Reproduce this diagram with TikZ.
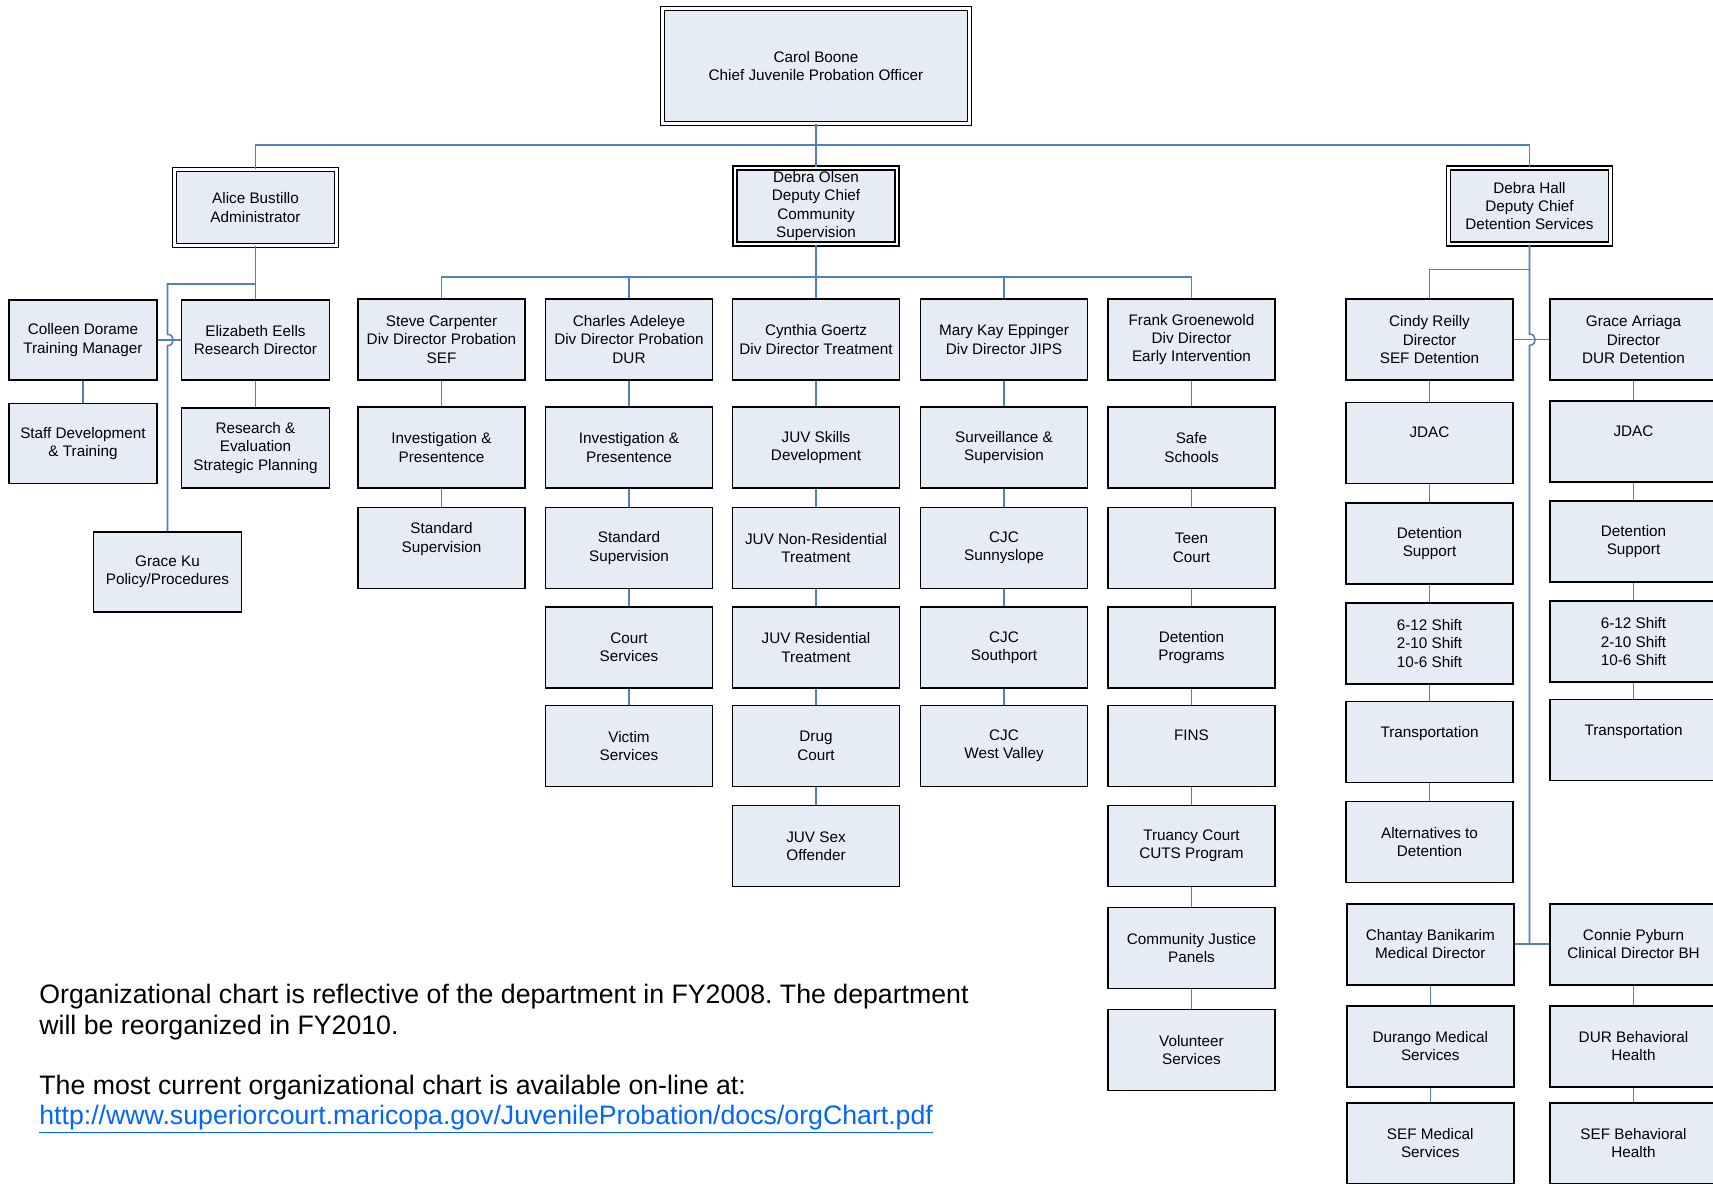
\documentclass[tikz,border=0pt]{standalone}
\usepackage{fontspec}
\setmainfont{Liberation Sans}
\usepackage{tikz}
\usetikzlibrary{positioning,calc}
\definecolor{myboxfill}{RGB}{230,236,246}
\definecolor{mylinkblue}{RGB}{79,129,189}
\definecolor{myurlblue}{RGB}{0,102,255}
\newcommand{\orgfont}{\fontsize{8.7}{10.5}\selectfont}
\newcommand{\memofont}{\fontsize{15.2}{18.6}\selectfont}
\frenchspacing

\begin{document}
\begin{tikzpicture}[
  x=0.02cm,
  y=-0.02cm,
  mybox/.style={
    draw,
    line width=1.1pt,
    fill=myboxfill,
    align=center,
    inner sep=0pt,
    minimum width=3.34cm,
    minimum height=1.62cm,
    font=\orgfont
    },
  mysmallbox/.style={
    mybox,
    minimum width=2.96cm,
    minimum height=1.6cm
    },
  mychief/.style={
    mybox,
    double,
    double distance=1.4pt,
    line width=0.8pt,
    minimum width=3.24cm,
    minimum height=1.52cm
    },
  raised/.style={text depth=12pt},
  mylink/.style={draw=mylinkblue, line width=0.9pt},
  memo/.style={anchor=base west, inner sep=0pt, font=\memofont}
]
\useasboundingbox (0,0) rectangle (1713,1183);
\clip (0,0) rectangle (1713,1183);

% chief and deputies
\node[mychief, minimum width=6.14cm, minimum height=2.3cm] (carol) at (816,66)
  {Carol Boone\\Chief Juvenile Probation Officer};
\node[mychief] (alice) at (255.5,207.5) {Alice Bustillo\\Administrator};
\node[mychief] (olsen) at (816,206) {Debra Olsen\\Deputy Chief\\Community\\Supervision};
\node[mychief] (hall) at (1529.5,206) {Debra Hall\\Deputy Chief\\Detention Services};

\coordinate (topbar) at (816,145);
\coordinate (ajoin) at (255.5,284);
\coordinate (midbar) at (816,277);
\coordinate (hbar) at (1529.5,269.3);

% administration
\node[mysmallbox] (colleen) at (83,340) {Colleen Dorame\\Training Manager};
\node[mysmallbox] (staffdev) at (83,443.5) {Staff Development\\\& Training};
\node[mysmallbox] (elizabeth) at (255.5,340) {Elizabeth Eells\\Research Director};
\node[mysmallbox] (research) at (255.5,448) {Research \&\\Evaluation\\Strategic Planning};
\node[mysmallbox] (graceku) at (167.5,572) {Grace Ku\\Policy/Procedures};

% community supervision
\node[mybox] (steve) at (441.5,339.5) {Steve Carpenter\\Div Director Probation\\SEF};
\node[mybox] (steve2) at (441.5,447.5) {Investigation \&\\Presentence};
\node[mybox, raised] (steve3) at (441.5,548) {Standard\\Supervision};

\node[mybox] (charles) at (629,339.5) {Charles Adeleye\\Div Director Probation\\DUR};
\node[mybox] (charles2) at (629,447.5) {Investigation \&\\Presentence};
\node[mybox] (charles3) at (629,548) {Standard\\Supervision};
\node[mybox] (charles4) at (629,647.5) {Court\\Services};
\node[mybox] (charles5) at (629,746) {Victim\\Services};

\node[mybox] (cynthia) at (816,339.5) {Cynthia Goertz\\Div Director Treatment};
\node[mybox] (cynthia2) at (816,447.5) {JUV Skills\\Development};
\node[mybox] (cynthia3) at (816,548) {JUV Non-Residential\\Treatment};
\node[mybox] (cynthia4) at (816,647.5) {JUV Residential\\Treatment};
\node[mybox] (cynthia5) at (816,746) {Drug\\Court};
\node[mybox] (cynthia6) at (816,846) {JUV Sex\\Offender};

\node[mybox] (marykay) at (1004,339.5) {Mary Kay Eppinger\\Div Director JIPS};
\node[mybox] (marykay2) at (1004,447.5) {Surveillance \&\\Supervision};
\node[mybox] (marykay3) at (1004,548) {CJC\\Sunnyslope};
\node[mybox] (marykay4) at (1004,647.5) {CJC\\Southport};
\node[mybox] (marykay5) at (1004,746) {CJC\\West Valley};

\node[mybox] (frank) at (1191.5,339.5) {Frank Groenewold\\Div Director\\Early Intervention};
\node[mybox] (frank2) at (1191.5,447.5) {Safe\\Schools};
\node[mybox] (frank3) at (1191.5,548) {Teen\\Court};
\node[mybox] (frank4) at (1191.5,647.5) {Detention\\Programs};
\node[mybox, raised] (frank5) at (1191.5,746) {FINS};
\node[mybox] (frank6) at (1191.5,846) {Truancy Court\\CUTS Program};
\node[mybox] (frank7) at (1191.5,948) {Community Justice\\Panels};
\node[mybox] (frank8) at (1191.5,1050) {Volunteer\\Services};

% detention services
\node[mybox] (cindy) at (1429.5,339.7) {Cindy Reilly\\Director\\SEF Detention};
\node[mybox, raised] (cindy2) at (1429.5,443) {JDAC};
\node[mybox] (cindy3) at (1429.5,543.5) {Detention\\Support};
\node[mybox] (cindy4) at (1429.5,643.3) {6-12 Shift\\2-10 Shift\\10-6 Shift};
\node[mybox, raised] (cindy5) at (1429.5,742) {Transportation};
\node[mybox] (cindy6) at (1429.5,842) {Alternatives to\\Detention};

\node[mybox] (chantay) at (1430.3,944.2) {Chantay Banikarim\\Medical Director};
\node[mybox] (chantay2) at (1430.3,1046.2) {Durango Medical\\Services};
\node[mybox] (chantay3) at (1430.3,1143.2) {SEF Medical\\Services};

\node[mybox] (grace) at (1633.5,339.7) {Grace Arriaga\\Director\\DUR Detention};
\node[mybox, raised] (grace2) at (1633.5,441.7) {JDAC};
\node[mybox] (grace3) at (1633.5,541.8) {Detention\\Support};
\node[mybox] (grace4) at (1633.5,641.6) {6-12 Shift\\2-10 Shift\\10-6 Shift};
\node[mybox, raised] (grace5) at (1633.5,740) {Transportation};

\node[mybox] (connie) at (1633.5,944.2) {Connie Pyburn\\Clinical Director BH};
\node[mybox] (connie2) at (1633.5,1046.2) {DUR Behavioral\\Health};
\node[mybox] (connie3) at (1633.5,1143.2) {SEF Behavioral\\Health};

% connectors
\draw[mylink] (carol.south) -- (topbar) -- (olsen.north);
\draw[mylink] (alice.north) |- (topbar) -| (hall.north);

\coordinate (kuhop) at (graceku.north |- colleen.east);
\draw[mylink] (alice.south) -- (elizabeth.north);
\draw[mylink] (ajoin) -| ([yshift=3.2pt]kuhop)
  .. controls +(4.3pt,0) and +(4.3pt,0) .. ([yshift=-3.2pt]kuhop) -- (graceku.north);
\draw[mylink] (colleen.east) -- (elizabeth.west);

\draw[mylink] (olsen.south) -- (cynthia.north);
\draw[mylink] (steve.north) |- (midbar) -| (frank.north);
\draw[mylink] (charles.north) |- (midbar);
\draw[mylink] (marykay.north) |- (midbar);

\coordinate (hallhop) at (hall.south |- cindy.east);
\coordinate (hallend) at (hall.south |- chantay.east);
\draw[mylink] (hall.south) -- ([yshift=3.2pt]hallhop)
  .. controls +(4.3pt,0) and +(4.3pt,0) .. ([yshift=-3.2pt]hallhop) -- (hallend);
\draw[mylink] (hbar) -| (cindy.north);
\draw[mylink] (cindy.east) -- (grace.west);
\draw[mylink] (chantay.east) -- (connie.west);

\foreach \a/\b in {colleen/staffdev, elizabeth/research,
    steve/steve2, steve2/steve3,
    charles/charles2, charles2/charles3, charles3/charles4, charles4/charles5,
    cynthia/cynthia2, cynthia2/cynthia3, cynthia3/cynthia4, cynthia4/cynthia5, cynthia5/cynthia6,
    marykay/marykay2, marykay2/marykay3, marykay3/marykay4, marykay4/marykay5,
    frank/frank2, frank2/frank3, frank3/frank4, frank4/frank5, frank5/frank6, frank6/frank7, frank7/frank8,
    cindy/cindy2, cindy2/cindy3, cindy3/cindy4, cindy4/cindy5, cindy5/cindy6,
    chantay/chantay2, chantay2/chantay3,
    grace/grace2, grace2/grace3, grace3/grace4, grace4/grace5,
    connie/connie2, connie2/connie3}
  \draw[mylink] (\a.south) -- (\b.north);

% note
\node[memo] (memo1) at (39,1003) {Organizational chart is reflective of the department in FY2008. The department};
\node[memo] (memo2) at (39,1034) {will be reorganized in FY2010.};
\node[memo] (memo3) at (39,1094) {The most current organizational chart is available on-line at:};
\node[memo, text=myurlblue] (url) at (39,1124)
  {\underline{http://www.superiorcourt.maricopa.gov/JuvenileProbation/docs/orgChart.pdf}};

\end{tikzpicture}
\end{document}
